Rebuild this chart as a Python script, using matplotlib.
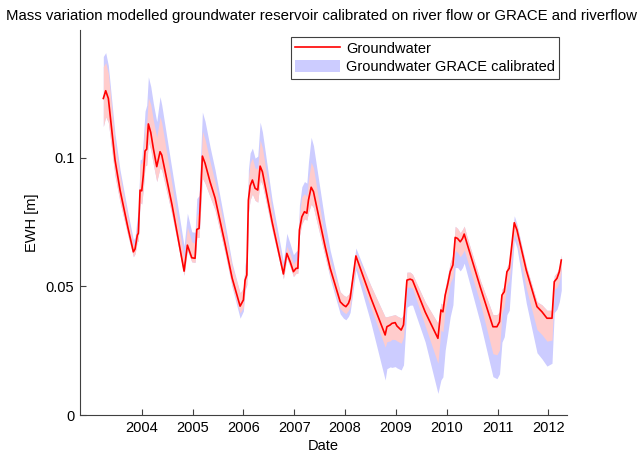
import numpy as np
import matplotlib
matplotlib.use("Agg")
import matplotlib.pyplot as plt
from matplotlib.patches import Patch
from matplotlib.lines import Line2D

# Decimal year of each sample
year = [2003.244, 2003.291, 2003.343, 2003.474, 2003.573, 2003.730, 2003.835, 2003.868, 2003.913, 2003.933,
        2003.967, 2004.000, 2004.031, 2004.065, 2004.098, 2004.130, 2004.177, 2004.228, 2004.295, 2004.360,
        2004.394, 2004.596, 2004.833, 2004.898, 2004.984, 2005.049, 2005.083, 2005.128, 2005.193, 2005.246,
        2005.344, 2005.443, 2005.640, 2005.778, 2005.935, 2006.000, 2006.033, 2006.067, 2006.098, 2006.132,
        2006.177, 2006.230, 2006.283, 2006.329, 2006.374, 2006.565, 2006.787, 2006.854, 2006.919, 2006.984,
        2007.037, 2007.071, 2007.102, 2007.150, 2007.201, 2007.248, 2007.280, 2007.333, 2007.378, 2007.608,
        2007.707, 2007.904, 2007.969, 2008.016, 2008.067, 2008.100, 2008.213, 2008.508, 2008.789, 2008.823,
        2008.888, 2008.921, 2008.986, 2009.020, 2009.104, 2009.150, 2009.217, 2009.281, 2009.327, 2009.577,
        2009.827, 2009.886, 2009.925, 2009.970, 2010.016, 2010.069, 2010.122, 2010.167, 2010.213, 2010.266,
        2010.311, 2010.344, 2010.398, 2010.660, 2010.909, 2010.988, 2011.039, 2011.087, 2011.132, 2011.185,
        2011.230, 2011.270, 2011.329, 2011.382, 2011.565, 2011.776, 2011.874, 2011.972, 2012.071, 2012.116,
        2012.169, 2012.215, 2012.254]

# Modelled groundwater storage (EWH, metres)
groundwater = [0.1230, 0.1260, 0.1230, 0.0991, 0.0874, 0.0726, 0.0634, 0.0645, 0.0699, 0.0706,
               0.0874, 0.0871, 0.0932, 0.1026, 0.1033, 0.1131, 0.1098, 0.1036, 0.0965, 0.1023,
               0.1010, 0.0816, 0.0559, 0.0660, 0.0611, 0.0609, 0.0721, 0.0725, 0.1006, 0.0978,
               0.0906, 0.0843, 0.0664, 0.0532, 0.0423, 0.0447, 0.0524, 0.0544, 0.0835, 0.0890,
               0.0913, 0.0881, 0.0874, 0.0967, 0.0945, 0.0750, 0.0548, 0.0628, 0.0596, 0.0557,
               0.0570, 0.0570, 0.0719, 0.0770, 0.0790, 0.0784, 0.0835, 0.0885, 0.0868, 0.0654,
               0.0570, 0.0440, 0.0427, 0.0421, 0.0434, 0.0453, 0.0618, 0.0455, 0.0311, 0.0343,
               0.0350, 0.0356, 0.0359, 0.0346, 0.0330, 0.0350, 0.0524, 0.0528, 0.0524, 0.0400,
               0.0298, 0.0408, 0.0401, 0.0466, 0.0505, 0.0557, 0.0583, 0.0690, 0.0686, 0.0673,
               0.0686, 0.0703, 0.0667, 0.0497, 0.0343, 0.0343, 0.0362, 0.0466, 0.0479, 0.0557,
               0.0570, 0.0641, 0.0747, 0.0719, 0.0563, 0.0421, 0.0401, 0.0376, 0.0376, 0.0518,
               0.0531, 0.0557, 0.0602]

# River-flow calibrated spread above / below the model (mm)
river_up_mm = [12.4, 10.9, 9.7, 7.0, 5.4, 3.9, 2.3, 2.7, 3.9, 5.4,
               10.1, 10.9, 10.1, 9.7, 10.1, 10.1, 10.9, 10.9, 11.3, 13.6,
               12.4, 7.8, 5.1, 7.0, 6.2, 5.8, 5.4, 6.2, 9.7, 9.3,
               7.8, 6.2, 5.1, 4.7, 5.1, 4.7, 5.4, 6.2, 8.5, 8.9,
               8.5, 7.8, 8.5, 10.1, 9.3, 4.7, 2.3, 2.7, 3.1, 3.1,
               3.1, 3.5, 6.2, 7.8, 7.0, 6.6, 7.8, 9.7, 9.3, 2.7,
               3.1, 3.9, 3.9, 3.9, 3.5, 3.1, 1.2, 4.7, 7.0, 3.9,
               3.5, 3.1, 3.1, 3.9, 4.7, 3.9, 3.1, 2.7, 2.3, 3.9,
               5.8, 2.7, 2.7, 2.7, 3.1, 3.5, 3.9, 4.3, 3.9, 3.5,
               3.5, 3.1, 2.7, 2.7, 4.7, 4.7, 3.9, 2.3, 1.9, 1.9,
               1.9, 1.6, 1.2, 1.6, 1.6, 1.9, 2.7, 3.1, 3.1, 2.3,
               2.3, 1.9, 1.9]
river_dn_mm = [10.9, 10.1, 9.3, 6.2, 4.7, 3.1, 1.9, 1.9, 2.3, 3.1,
               4.7, 5.1, 5.4, 5.8, 6.2, 7.0, 6.6, 6.2, 5.8, 6.2,
               5.8, 3.9, 1.6, 1.9, 1.6, 1.6, 3.1, 3.5, 8.5, 7.8,
               5.8, 4.7, 3.5, 3.1, 2.7, 2.7, 3.1, 3.5, 5.1, 5.4,
               5.4, 4.7, 4.7, 5.4, 5.1, 3.1, 1.9, 1.9, 1.9, 1.9,
               1.9, 1.9, 2.3, 2.7, 2.7, 2.7, 4.7, 6.6, 6.2, 3.9,
               3.1, 2.7, 2.7, 2.7, 2.7, 3.1, 3.5, 3.9, 4.7, 5.8,
               6.2, 6.2, 6.6, 5.8, 5.1, 4.7, 2.7, 3.1, 3.1, 5.4,
               9.7, 7.8, 7.8, 5.8, 5.4, 4.3, 4.7, 5.1, 5.4, 5.8,
               5.8, 6.2, 6.2, 6.2, 10.5, 10.9, 10.9, 7.0, 5.8, 5.1,
               4.7, 4.3, 4.3, 4.7, 7.0, 8.9, 8.9, 8.9, 8.5, 3.1,
               3.5, 3.9, 3.9]

# GRACE + river-flow calibrated spread above / below the model (mm)
grace_up_mm = [16.3, 14.8, 12.8, 10.1, 7.8, 5.8, 4.7, 4.7, 7.0, 8.5,
               11.7, 12.4, 14.0, 15.5, 17.1, 18.3, 17.9, 17.5, 17.5, 21.4,
               19.4, 13.6, 9.7, 12.4, 10.1, 10.1, 12.0, 12.8, 17.1, 16.3,
               13.6, 10.9, 7.8, 5.8, 5.1, 4.7, 6.2, 7.8, 11.7, 12.8,
               12.4, 11.7, 13.2, 17.1, 15.5, 8.5, 4.7, 7.8, 7.0, 6.6,
               6.6, 7.0, 9.7, 11.7, 11.7, 11.7, 14.8, 19.4, 17.9, 9.3,
               7.0, 3.9, 3.9, 3.9, 3.5, 3.1, 3.1, 4.7, 7.0, 3.9,
               3.5, 3.1, 3.1, 3.9, 4.7, 3.9, 3.1, 2.7, 2.3, 3.9,
               5.8, 2.7, 2.7, 2.7, 3.1, 3.5, 3.9, 4.3, 3.9, 3.5,
               3.5, 3.1, 2.7, 2.7, 4.7, 4.7, 3.9, 2.3, 1.9, 1.9,
               1.9, 2.3, 2.7, 2.3, 1.6, 1.9, 2.7, 3.1, 3.1, 2.3,
               2.3, 1.9, 1.9]
grace_dn_mm = [10.9, 10.1, 9.3, 6.2, 4.7, 3.1, 1.9, 1.9, 2.3, 3.1,
               4.7, 5.1, 5.4, 5.8, 6.2, 7.0, 6.6, 6.2, 5.8, 6.2,
               5.8, 3.9, 1.6, 1.9, 1.6, 1.6, 3.1, 3.5, 8.5, 7.8,
               5.8, 4.7, 3.5, 3.5, 4.7, 4.3, 3.9, 3.9, 5.1, 5.4,
               5.4, 4.7, 4.7, 5.4, 5.1, 3.1, 1.9, 1.9, 1.9, 1.9,
               1.9, 1.9, 2.3, 2.7, 2.7, 2.7, 4.7, 6.6, 6.2, 3.9,
               3.9, 4.7, 5.1, 5.1, 5.1, 5.4, 5.4, 9.7, 17.5, 16.3,
               16.3, 17.1, 17.1, 16.3, 15.5, 15.5, 10.5, 10.1, 9.7, 11.7,
               21.4, 27.2, 25.3, 21.4, 19.4, 17.5, 15.5, 11.7, 11.3, 11.3,
               11.3, 11.3, 11.7, 14.0, 19.4, 20.2, 20.2, 18.3, 17.5, 16.7,
               16.3, 11.7, 6.6, 7.0, 12.8, 17.9, 18.3, 18.6, 17.5, 12.0,
               12.0, 11.7, 11.7]

year_ticks = [2004, 2005, 2006, 2007, 2008, 2009, 2010, 2011, 2012]
ewh_ticks = [0, 0.05, 0.1]

plt.rcParams['font.family'] = ['Liberation Sans', 'DejaVu Sans']

t = np.array(year)
gw = np.array(groundwater)
river_lo = gw - np.array(river_dn_mm) / 1000
river_hi = gw + np.array(river_up_mm) / 1000
grace_lo = gw - np.array(grace_dn_mm) / 1000
grace_hi = gw + np.array(grace_up_mm) / 1000

fig = plt.figure(figsize=(6.43, 4.55), dpi=100)
ax = fig.add_axes([0.1244, 0.0879, 0.7569, 0.8462])

blue = '#ccccff'
pink = '#ffcccc'
ax.fill_between(t, grace_lo, grace_hi, color=blue, linewidth=0)
ax.fill_between(t, river_lo, river_hi, color=pink, linewidth=0)
ax.plot(t, gw, color='#ff0000', linewidth=1.2)

ax.set_xlim(2002.785, 2012.36)
ax.set_ylim(0, 0.1496)
ax.set_xticks(year_ticks)
ax.set_xticklabels([str(y) for y in year_ticks])
ax.set_yticks(ewh_ticks)
ax.set_yticklabels(['0', '0.05', '0.1'])

for side in ('top', 'right'):
    ax.spines[side].set_visible(False)
for side in ('left', 'bottom'):
    ax.spines[side].set_color('#404040')
    ax.spines[side].set_linewidth(0.8)
ax.tick_params(direction='in', length=4, width=0.8, color='#404040',
               labelsize=10.5, labelcolor='black', pad=4)

ax.set_xlabel('Date', fontsize=10.5, labelpad=3)
ax.set_ylabel('EWH [m]', fontsize=10.5, labelpad=5)
fig.text(0.5, 1 - 16 / 455, 'Mass variation modelled groundwater reservoir calibrated on river flow or GRACE and riverflow',
         fontsize=10.8, ha='center', va='center')

handles = [Line2D([0], [0], color='#ff0000', linewidth=1.2),
           Patch(facecolor=blue, edgecolor='none')]
leg = ax.legend(handles, ['Groundwater', 'Groundwater GRACE calibrated'],
                loc='upper right', fontsize=10.5, fancybox=False, framealpha=1,
                edgecolor='#404040', handlelength=3.1, handleheight=0.9,
                labelspacing=0.3, borderpad=0.3, borderaxespad=0.5,
                handletextpad=0.4)
leg.get_frame().set_linewidth(0.8)

fig.savefig('out.png', dpi=100)
